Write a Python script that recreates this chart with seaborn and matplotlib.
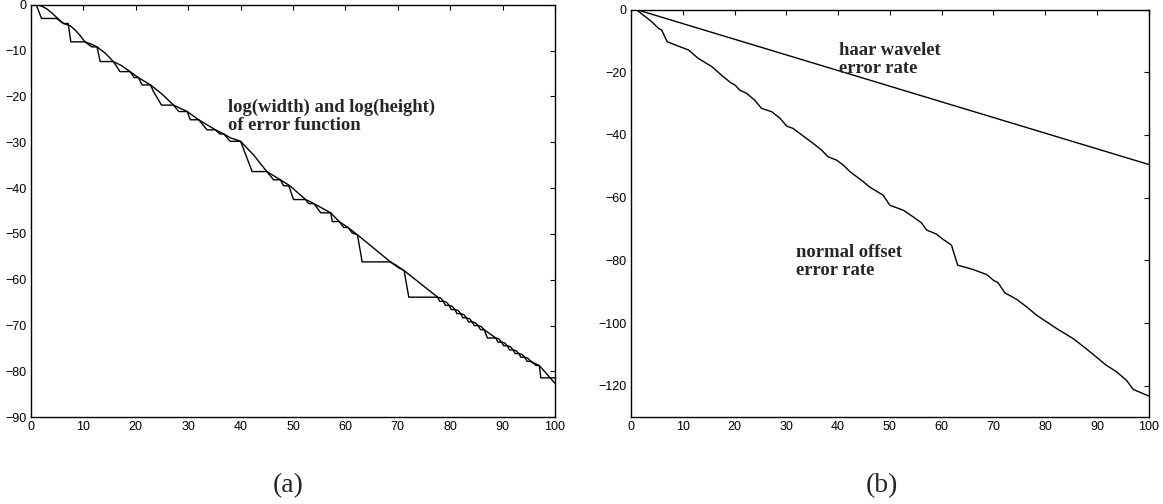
import matplotlib
matplotlib.use("Agg")
import matplotlib.pyplot as plt
import seaborn as sns

# ---------------- data ----------------
# panel (a): two interleaved curves (staircase-like and diagonal)
a_stair_x = [1, 2, 4.9, 6.2, 7.1, 7.6, 10.3, 11.6, 12.6, 13.2, 15.7, 17.0, 18.9, 19.7, 20.5,
             21.2, 22.8, 23.4, 24.9, 27.2, 28.2, 29.8, 30.4, 32.0, 33.6, 35.2, 36.0, 36.8,
             38.0, 40.0, 42.2, 45.0, 46.3, 47.6, 48.2, 49.2, 50.1, 52.4, 53.0, 54.0, 55.3,
             57.2, 57.5, 58.8, 59.7, 60.5, 61.3, 62.3, 63.2, 68.6, 69.3, 70.2, 71.2, 72.1,
             77.6, 78.0, 78.7, 79.1, 79.8, 80.2, 80.9, 81.3, 82.0, 82.4, 83.1, 83.5, 84.2,
             84.6, 85.3, 85.8, 86.5, 87.1, 88.7, 89.1, 89.8, 90.2, 90.9, 91.3, 92.0, 92.4,
             93.1, 93.5, 94.2, 94.7, 95.4, 96.4, 97.0, 97.3, 100]
a_stair_y = [0, -3.0, -3.0, -4.1, -4.1, -8.1, -8.1, -9.2, -9.2, -12.4, -12.4, -14.6, -14.6, -15.9, -15.9,
             -17.5, -17.5, -19.0, -21.9, -21.9, -23.3, -23.3, -25.1, -25.1, -27.3, -27.3, -28.2, -28.2,
             -29.8, -29.8, -36.4, -36.4, -38.2, -38.2, -39.5, -39.5, -42.5, -42.5, -43.4, -43.4, -45.4,
             -45.4, -47.3, -47.3, -48.6, -48.6, -49.8, -50.2, -56.1, -56.1, -56.7, -57.4, -58.0, -63.8,
             -63.8, -64.7, -64.7, -65.6, -65.6, -66.5, -66.5, -67.4, -67.4, -68.3, -68.3, -69.2, -69.2,
             -70.0, -70.0, -70.9, -70.9, -72.7, -72.7, -73.6, -73.6, -74.4, -74.4, -75.3, -75.3, -76.1,
             -76.1, -76.9, -76.9, -77.8, -77.8, -78.7, -78.7, -81.4, -81.4]

a_diag_x = [1, 2, 3, 4, 5, 6.2, 7.5, 8.5, 9.5, 10.3, 11.5, 12.6, 14.2, 15.7, 17.3, 18.9, 20.5,
            22.8, 25.0, 27.2, 29.8, 32.0, 35.2, 36.8, 38.0, 40.0, 42.5, 45.0, 47.6, 49.4, 52.4,
            54.0, 57.2, 58.8, 60.5, 62.3, 68.6, 69.5, 71.2, 77.6, 78.2, 78.7, 79.3, 79.8, 80.4,
            80.9, 81.5, 82.0, 82.6, 83.1, 83.7, 84.2, 84.8, 85.3, 85.9, 86.5, 88.7, 89.3, 89.8,
            90.4, 90.9, 91.5, 92.0, 92.6, 93.1, 93.7, 94.2, 94.8, 95.4, 97.0, 100]
a_diag_y = [0, -0.3, -0.9, -1.8, -2.9, -4.1, -4.6, -5.6, -6.9, -8.1, -8.6, -9.2, -10.6, -12.4, -13.3, -14.6, -15.9,
            -17.5, -19.5, -21.9, -23.3, -25.1, -27.3, -28.2, -29.0, -29.8, -32.8, -36.4, -38.2, -39.5, -42.5,
            -43.4, -45.4, -47.3, -48.6, -50.2, -56.1, -56.7, -58.0, -63.8, -64.0, -64.7, -64.9, -65.6, -65.8,
            -66.5, -66.7, -67.4, -67.6, -68.3, -68.5, -69.2, -69.4, -70.0, -70.2, -70.9, -72.7, -72.9, -73.6,
            -73.8, -74.4, -74.6, -75.3, -75.5, -76.1, -76.3, -76.9, -77.1, -77.8, -78.7, -82.6]

# panel (b)
haar_x = [1, 100]
haar_y = [0, -49.4]

normal_x = [1, 4.0, 5.3, 5.9, 7.0, 9.5, 11.1, 13.0, 15.6, 17.8, 19.4, 20.1, 21.0, 22.3, 23.9,
            25.2, 27.2, 28.8, 30.1, 31.3, 33.0, 35.2, 36.8, 38.1, 39.7, 41.0, 42.3, 44.8, 46.1,
            47.1, 48.7, 50.0, 52.6, 54.5, 56.1, 57.1, 59.0, 60.3, 61.9, 63.1, 66.1, 68.7, 70.0,
            70.9, 72.2, 74.5, 76.5, 78.3, 80.3, 82.3, 84.5, 85.4, 87.9, 89.9, 91.8, 93.8, 95.7,
            97.0, 100]
normal_y = [0, -3.9, -6.0, -6.5, -10.3, -11.9, -12.9, -15.6, -18.2, -21.4, -23.5, -24.1, -25.7, -26.7, -28.9,
            -31.5, -32.6, -34.7, -37.2, -37.9, -40.0, -42.7, -44.8, -47.0, -48.0, -49.6, -51.7, -54.8, -56.6,
            -57.6, -59.2, -62.4, -64.0, -66.1, -68.0, -70.3, -71.6, -73.3, -75.1, -81.5, -82.9, -84.5, -86.3,
            -87.1, -90.3, -92.4, -94.9, -97.4, -99.6, -101.8, -104.0, -104.9, -108.1, -110.8, -113.4, -115.5, -118.2,
            -121.1, -123.2]

xticks = [0, 10, 20, 30, 40, 50, 60, 70, 80, 90, 100]
a_yticks = [-90, -80, -70, -60, -50, -40, -30, -20, -10, 0]
b_yticks = [-120, -100, -80, -60, -40, -20, 0]

label_a = "log(width) and log(height)\nof error function"
label_haar = "haar wavelet\nerror rate"
label_normal = "normal offset\nerror rate"

# ---------------- style ----------------
sns.set_style("white")
plt.rcParams['font.family'] = ['Liberation Sans', 'DejaVu Sans']
plt.rcParams['axes.linewidth'] = 1.0

fig = plt.figure(figsize=(11.63, 5.04), dpi=100)
W, H = 1163, 504
ax1 = fig.add_axes([31 / W, (H - 417.3) / H, 524 / W, (417.3 - 4.7) / H])
ax2 = fig.add_axes([631 / W, (H - 417.3) / H, 517.7 / W, (417.3 - 9.5) / H])

lw = 1.0
sns.lineplot(x=a_stair_x, y=a_stair_y, ax=ax1, color='black', linewidth=lw, sort=False, estimator=None)
sns.lineplot(x=a_diag_x, y=a_diag_y, ax=ax1, color='black', linewidth=lw, sort=False, estimator=None)
sns.lineplot(x=haar_x, y=haar_y, ax=ax2, color='black', linewidth=lw, sort=False, estimator=None)
sns.lineplot(x=normal_x, y=normal_y, ax=ax2, color='black', linewidth=lw, sort=False, estimator=None)

ax1.set_xlim(0, 100)
ax1.set_ylim(-90, 0)
ax2.set_xlim(0, 100)
ax2.set_ylim(-130, 0)
ax1.set_xticks(xticks)
ax2.set_xticks(xticks)
ax1.set_yticks(a_yticks)
ax2.set_yticks(b_yticks)

for ax in (ax1, ax2):
    for s in ax.spines.values():
        s.set_visible(True)
        s.set_color('black')
        s.set_linewidth(1.0)
    ax.tick_params(direction='in', top=True, right=True, length=3.5, width=0.8,
                   labelsize=9, pad=3, colors='black')
    ax.set_xlabel("")
    ax.set_ylabel("")
    ax.grid(False)

serif = ['Liberation Serif', 'DejaVu Serif']
ax1.text(37.5, -20.6, label_a, ha='left', va='top', fontsize=13.4, fontweight='bold',
         family=serif, linespacing=1.05)
ax2.text(40.2, -10.5, label_haar, ha='left', va='top', fontsize=13.4, fontweight='bold',
         family=serif, linespacing=1.05)
ax2.text(31.9, -74.9, label_normal, ha='left', va='top', fontsize=13.4, fontweight='bold',
         family=serif, linespacing=1.05)

fig.text(288 / W, 1 - 486 / H, "(a)", ha='center', va='center', fontsize=20, family=serif)
fig.text(882 / W, 1 - 486 / H, "(b)", ha='center', va='center', fontsize=20, family=serif)

fig.savefig("out.png", dpi=100, facecolor='white')
